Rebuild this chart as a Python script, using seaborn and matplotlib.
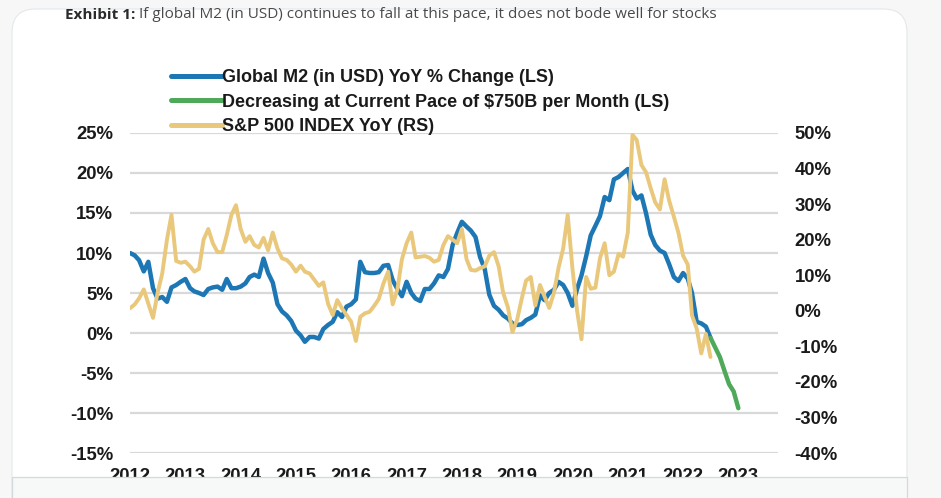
import numpy as np
import pandas as pd
import matplotlib
matplotlib.use("Agg")
import matplotlib.pyplot as plt
import matplotlib.dates as mdates
import seaborn as sns
from matplotlib.patches import FancyBboxPatch, Rectangle
from matplotlib.lines import Line2D

# ---------------- data (monthly, starting Jan 2012) ----------------
year_labels = [str(y) for y in range(2012, 2024)]

m2_yoy = [
    10.0, 9.7, 9.1, 7.7, 8.9, 5.6, 4.3, 4.5, 3.9, 5.7, 6.0, 6.4,
    6.75, 5.6, 5.2, 5.0, 4.75, 5.5, 5.7, 5.8, 5.4, 6.75, 5.6, 5.6,
    5.8, 6.2, 7.0, 7.3, 7.0, 9.3, 7.5, 6.3, 3.6, 2.7, 2.2, 1.5,
    0.3, -0.3, -1.1, -0.5, -0.5, -0.7, 0.5, 1.0, 1.4, 2.6, 2.0, 3.3,
    3.6, 4.2, 8.9, 7.6, 7.5, 7.5, 7.6, 8.4, 8.5, 6.6, 5.5, 4.6,
    6.4, 5.0, 4.3, 4.0, 5.5, 5.5, 6.2, 7.2, 7.0, 8.0, 11.0, 12.5,
    13.9, 13.3, 12.8, 12.0, 9.5, 8.0, 4.8, 3.4, 2.9, 2.2, 1.8, 1.2,
    1.0, 1.1, 1.6, 1.9, 2.3, 4.7, 4.1, 5.0, 5.4, 6.4, 6.0, 5.0,
    3.4, 5.5, 7.2, 9.6, 12.2, 13.4, 14.6, 17.0, 16.6, 19.2, 19.5, 20.0,
    20.5, 17.8, 16.8, 17.2, 15.0, 12.3, 11.0, 10.3, 10.0, 8.6, 7.0, 6.5,
    7.5, 6.8, 5.0, 1.4, 1.2, 0.8, -0.6,
]

m2_projection = [-0.6, -1.8, -3.0, -4.7, -6.4, -7.3, -9.4]   # from Jul 2022

spx_yoy = [
    0.7, 1.8, 3.5, 6.0, 2.0, -2.0, 5.0, 10.5, 20.0, 27.0, 14.0, 13.5,
    13.8, 12.5, 11.0, 11.8, 20.0, 23.0, 19.0, 16.5, 16.5, 21.3, 27.0, 29.7,
    23.0, 19.4, 21.0, 18.5, 17.8, 20.5, 17.0, 22.0, 17.5, 14.75, 14.3, 13.0,
    11.0, 12.7, 11.0, 10.5, 8.8, 7.0, 8.0, 2.0, -1.2, 3.0, 0.7, -1.2,
    -3.1, -8.5, -1.7, -0.7, -0.3, 1.4, 3.3, 7.7, 11.0, 1.8, 6.0, 14.5,
    19.0, 22.0, 15.0, 15.2, 15.4, 14.9, 13.8, 14.3, 18.5, 21.0, 20.0, 19.0,
    23.0, 14.5, 11.5, 11.3, 12.0, 12.5, 15.5, 16.5, 12.5, 5.0, 1.0, -6.0,
    -2.5, 3.5, 8.5, 9.5, 1.5, 7.25, 4.0, 0.8, 5.0, 12.0, 17.5, 27.0,
    12.0, 0.0, -8.0, 9.5, 6.2, 6.5, 14.75, 19.0, 10.0, 11.0, 16.0, 15.2,
    22.0, 49.5, 48.0, 41.0, 39.0, 34.5, 30.5, 28.5, 37.0, 31.0, 26.5, 22.0,
    15.5, 13.0, -1.3, -5.0, -12.0, -6.5, -13.0,
]

left_ticks = [-15, -10, -5, 0, 5, 10, 15, 20, 25]
right_ticks = [-40, -30, -20, -10, 0, 10, 20, 30, 40, 50]

labels = [
    "Global M2 (in USD) YoY % Change (LS)",
    "Decreasing at Current Pace of $750B per Month (LS)",
    "S&P 500 INDEX YoY (RS)",
]
title_bold = "Exhibit 1:"
title_rest = " If global M2 (in USD) continues to fall at this pace, it does not bode well for stocks"

BLUE = "#1d77b4"
GREEN = "#4fa95b"
GOLD = "#e9c77b"

df_m2 = pd.DataFrame({"date": pd.date_range("2012-01-01", periods=len(m2_yoy), freq="MS"),
                      "value": m2_yoy})
df_proj = pd.DataFrame({"date": pd.date_range("2022-07-01", periods=len(m2_projection), freq="MS"),
                        "value": m2_projection})
df_spx = pd.DataFrame({"date": pd.date_range("2012-01-01", periods=len(spx_yoy), freq="MS"),
                       "value": spx_yoy})

# ---------------- figure ----------------
sns.set_theme(style="white")
plt.rcParams["font.family"] = ["Liberation Sans", "DejaVu Sans"]

W, H = 941, 498
fig = plt.figure(figsize=(W / 100, H / 100), dpi=100)
fig.patch.set_facecolor("#f7f7f7")

# card
card = FancyBboxPatch((12 / W, -0.2), (907 - 12) / W, (H - 9) / H + 0.2,
                      boxstyle="round,pad=0,rounding_size=0.025",
                      transform=fig.transFigure, facecolor="white",
                      edgecolor="#e3e8eb", linewidth=0.8, zorder=-5,
                      mutation_aspect=W / H)
fig.patches.append(card)

ax = fig.add_axes([130 / W, 1 - 453 / H, (778 - 130) / W, (453 - 133) / H])
ax.patch.set_visible(False)

sns.lineplot(data=df_m2, x="date", y="value", ax=ax, color=BLUE, linewidth=3.2,
             legend=False, zorder=3)
sns.lineplot(data=df_proj, x="date", y="value", ax=ax, color=GREEN, linewidth=3.2,
             legend=False, zorder=3)

ax2 = ax.twinx()
ax2.patch.set_visible(False)
sns.lineplot(data=df_spx, x="date", y="value", ax=ax2, color=GOLD, linewidth=2.8,
             legend=False, zorder=3)

ax.set_ylim(-15, 25)
ax2.set_ylim(-40, 50)
ax.set_xlim(pd.Timestamp("2012-01-01"), pd.Timestamp("2023-09-20"))

ax.set_yticks(left_ticks)
ax.set_yticklabels([f"{v}%" for v in left_ticks])
ax2.set_yticks(right_ticks)
ax2.set_yticklabels([f"{v}%" for v in right_ticks])
ax.set_xticks([pd.Timestamp(f"{y}-01-01") for y in year_labels])
ax.set_xticklabels(year_labels)

ax.yaxis.grid(True, color="#d9d9d9", linewidth=1.6)
ax.xaxis.grid(False)
ax.set_axisbelow(True)
for a in (ax, ax2):
    for s in a.spines.values():
        s.set_visible(False)
    a.set_xlabel("")
    a.set_ylabel("")
    for lab in a.get_xticklabels() + a.get_yticklabels():
        lab.set_fontweight("bold")
        lab.set_color("#1a1a1a")

ax.tick_params(axis="y", length=0, pad=12, labelsize=13.3)
ax.tick_params(axis="x", length=0, pad=11, labelsize=13.3)
ax2.tick_params(axis="y", length=0, pad=12, labelsize=13.3)

# legend
handles = [Line2D([], [], color=BLUE, lw=3.6),
           Line2D([], [], color=GREEN, lw=3.6),
           Line2D([], [], color=GOLD, lw=3.6)]
leg = fig.legend(handles, labels, loc="upper left",
                 bbox_to_anchor=(171 / W, 1 - 69 / H), bbox_transform=fig.transFigure,
                 frameon=False, fontsize=13, handlelength=2.8, handletextpad=0.05,
                 labelspacing=0.42, borderpad=0, borderaxespad=0)
for t in leg.get_texts():
    t.set_fontweight("bold")
    t.set_color("#1a1a1a")

# bottom band covering cut-off year labels
band = Rectangle((12 / W, -0.05), (907 - 12) / W, 0.05 + (H - 477) / H,
                 transform=fig.transFigure, facecolor="#f7f8f8",
                 edgecolor="#d3dade", linewidth=0.9, zorder=10)
fig.patches.append(band)

# title (bold prefix + regular remainder)
t1 = fig.text(65 / W, 1 - 15 / H, title_bold, fontsize=11.0, fontweight="bold",
              color="#2b2b2b", va="center", ha="left",
              family=["Open Sans", "DejaVu Sans"], zorder=11)
fig.canvas.draw()
bb = t1.get_window_extent(renderer=fig.canvas.get_renderer())
fig.text(bb.x1 / W, 1 - 15 / H, title_rest, fontsize=11.0, color="#4a4a4a",
         va="center", ha="left", family=["Open Sans", "DejaVu Sans"], zorder=11)

fig.savefig("out.png", dpi=100, facecolor=fig.get_facecolor())
